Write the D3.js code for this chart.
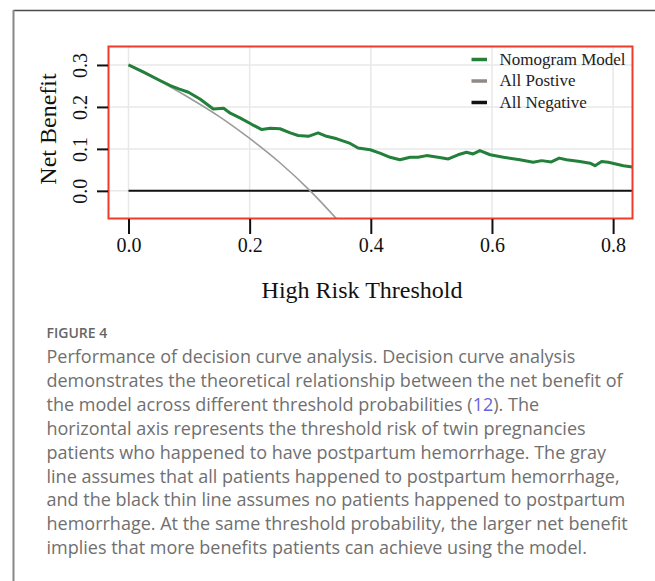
<!DOCTYPE html>
<html>
<head>
<meta charset="utf-8">
<script src="https://cdn.jsdelivr.net/npm/d3@7"></script>
<style>
  html, body { margin: 0; padding: 0; background: #fff; }
</style>
</head>
<body>
<div id="chart"></div>
<script>
const width = 655
const height = 581

// Nomogram model curve
const modelThreshold = [0, 0.025, 0.052, 0.069, 0.083, 0.099, 0.118, 0.140, 0.157, 0.168, 0.184, 0.204, 0.220, 0.234, 0.250, 0.267, 0.280, 0.297, 0.313, 0.327, 0.344, 0.366, 0.379, 0.399, 0.415, 0.432, 0.448, 0.465, 0.478, 0.492, 0.511, 0.528, 0.544, 0.558, 0.569, 0.580, 0.597, 0.619, 0.646, 0.668, 0.682, 0.698, 0.711, 0.723, 0.745, 0.762, 0.770, 0.781, 0.792, 0.817, 0.832]
const modelBenefit = [0.300, 0.283, 0.263, 0.251, 0.243, 0.235, 0.219, 0.195, 0.197, 0.185, 0.174, 0.158, 0.146, 0.149, 0.148, 0.138, 0.132, 0.130, 0.138, 0.130, 0.124, 0.113, 0.102, 0.098, 0.090, 0.080, 0.074, 0.080, 0.080, 0.084, 0.080, 0.076, 0.086, 0.092, 0.088, 0.096, 0.086, 0.080, 0.074, 0.068, 0.072, 0.069, 0.078, 0.074, 0.070, 0.066, 0.060, 0.070, 0.068, 0.060, 0.057]

// All positive curve
const allPosThreshold = [0, 0.05, 0.10, 0.15, 0.20, 0.25, 0.30, 0.345]
const allPosBenefit = [0.300, 0.263, 0.222, 0.177, 0.125, 0.067, 0.000, -0.069]

// All negative
const allNegThreshold = [0, 0.832]
const allNegBenefit = [0, 0]

const xTicks = [0, 0.2, 0.4, 0.6, 0.8]
const yTicks = [0, 0.1, 0.2, 0.3]
const legendLabels = ["Nomogram Model", "All Postive", "All Negative"]
const legendColors = ["#22803a", "#8f8a86", "#111"]

const captionTitle = "FIGURE 4"
const captionLines = [
  "Performance of decision curve analysis. Decision curve analysis",
  "demonstrates the theoretical relationship between the net benefit of",
  "the model across different threshold probabilities (12). The",
  "horizontal axis represents the threshold risk of twin pregnancies",
  "patients who happened to have postpartum hemorrhage. The gray",
  "line assumes that all patients happened to postpartum hemorrhage,",
  "and the black thin line assumes no patients happened to postpartum",
  "hemorrhage. At the same threshold probability, the larger net benefit",
  "implies that more benefits patients can achieve using the model."
]

const plot = { left: 108.5, right: 632.5, top: 46.5, bottom: 218.5 }
const serif = "'Liberation Serif', 'Times New Roman', serif"

const svg = d3.select("#chart")
              .append("svg")
              .attr("width", width)
              .attr("height", height)

// figure frame (left + top border)
svg.append("line")
   .attr("x1", 13.5).attr("x2", width).attr("y1", 10.5).attr("y2", 10.5)
   .attr("stroke", "#4a4a4a").attr("stroke-width", 1.5)
svg.append("line")
   .attr("x1", 13.5).attr("x2", 13.5).attr("y1", 10).attr("y2", height)
   .attr("stroke", "#888").attr("stroke-width", 2)

const x = d3.scaleLinear().domain([-0.033, 0.832]).range([plot.left, plot.right])
const y = d3.scaleLinear().domain([-0.0659, 0.344]).range([plot.bottom, plot.top])

// grid
svg.append("g")
   .selectAll("line")
   .data(xTicks)
   .enter()
   .append("line")
   .attr("x1", d => x(d)).attr("x2", d => x(d))
   .attr("y1", plot.top).attr("y2", plot.bottom)
   .attr("stroke", "#e8e8e8").attr("stroke-width", 1.5)
svg.append("g")
   .selectAll("line")
   .data(yTicks)
   .enter()
   .append("line")
   .attr("x1", plot.left).attr("x2", plot.right)
   .attr("y1", d => y(d)).attr("y2", d => y(d))
   .attr("stroke", "#e8e8e8").attr("stroke-width", 1.5)

// clip for curves
svg.append("clipPath")
   .attr("id", "clip")
   .append("rect")
   .attr("x", plot.left).attr("y", plot.top)
   .attr("width", plot.right - plot.left).attr("height", plot.bottom - plot.top)

const line = d3.line().x(d => x(d[0])).y(d => y(d[1]))
const curves = svg.append("g").attr("clip-path", "url(#clip)")

curves.append("path")
      .datum(d3.zip(allNegThreshold, allNegBenefit))
      .attr("d", line)
      .attr("fill", "none")
      .attr("stroke", "#111")
      .attr("stroke-width", 2)

curves.append("path")
      .datum(d3.zip(allPosThreshold, allPosBenefit))
      .attr("d", d3.line().curve(d3.curveMonotoneX).x(d => x(d[0])).y(d => y(d[1])))
      .attr("fill", "none")
      .attr("stroke", "#9b9b9b")
      .attr("stroke-width", 1.6)

curves.append("path")
      .datum(d3.zip(modelThreshold, modelBenefit))
      .attr("d", line)
      .attr("fill", "none")
      .attr("stroke", "#22803a")
      .attr("stroke-width", 3)
      .attr("stroke-linejoin", "round")

// red box
svg.append("rect")
   .attr("x", plot.left).attr("y", plot.top)
   .attr("width", plot.right - plot.left).attr("height", plot.bottom - plot.top)
   .attr("fill", "none")
   .attr("stroke", "#ef3b2c")
   .attr("stroke-width", 2)

// axes
const xAxis = svg.append("g")
                 .attr("transform", "translate(0," + (plot.bottom + 0.5) + ")")
                 .call(d3.axisBottom(x).tickValues(xTicks).tickFormat(d3.format(".1f")).tickSize(15).tickPadding(4))
xAxis.select(".domain").remove()
xAxis.selectAll(".tick line").attr("stroke", "#111").attr("stroke-width", 2)
xAxis.selectAll(".tick text")
     .attr("fill", "#111")
     .style("font-family", serif)
     .style("font-size", "20px")

const yAxis = svg.append("g")
                 .attr("transform", "translate(" + (plot.left - 0.5) + ",0)")
                 .call(d3.axisLeft(y).tickValues(yTicks).tickFormat(d3.format(".1f")).tickSize(11).tickPadding(0))
yAxis.select(".domain").remove()
yAxis.selectAll(".tick line").attr("stroke", "#111").attr("stroke-width", 2)
yAxis.selectAll(".tick text")
     .attr("fill", "#111")
     .attr("x", null)
     .attr("dy", null)
     .attr("text-anchor", "middle")
     .attr("transform", "translate(-28,0) rotate(-90)")
     .attr("dominant-baseline", "central")
     .style("font-family", serif)
     .style("font-size", "20px")

// axis titles
svg.append("text")
   .attr("x", 362).attr("y", 298)
   .attr("text-anchor", "middle")
   .style("font-family", serif)
   .style("font-size", "24px")
   .attr("fill", "#111")
   .text("High Risk Threshold")

svg.append("text")
   .attr("transform", "translate(56," + 129 + ") rotate(-90)")
   .attr("text-anchor", "middle")
   .style("font-family", serif)
   .style("font-size", "24px")
   .attr("fill", "#111")
   .text("Net Benefit")

// legend
const legend = svg.append("g").attr("id", "legend")
const legendItem = legend.selectAll("g")
                         .data(legendLabels)
                         .enter()
                         .append("g")
                         .attr("transform", (d, i) => "translate(0," + (59.5 + 21.5 * i) + ")")
legendItem.append("line")
          .attr("x1", 471.5).attr("x2", 487)
          .attr("stroke", (d, i) => legendColors[i])
          .attr("stroke-width", 3.5)
legendItem.append("text")
          .attr("x", 499.5)
          .attr("dy", "0.32em")
          .style("font-family", serif)
          .style("font-size", "17px")
          .attr("fill", "#222")
          .text(d => d)

// caption
const caption = svg.append("g").attr("id", "caption")
caption.append("text")
       .attr("x", 46.5).attr("y", 338)
       .style("font-family", "'Open Sans', sans-serif")
       .style("font-size", "14px")
       .style("font-weight", 600)
       .attr("fill", "#666")
       .text(captionTitle)

const capText = caption.append("text")
                       .style("font-family", "'Open Sans', sans-serif")
                       .style("font-size", "18px")
                       .attr("fill", "#707070")
captionLines.forEach((ln, i) => {
  const tspan = capText.append("tspan")
                       .attr("x", 46.5)
                       .attr("y", 363 + 23.9 * i)
  const parts = ln.split("(12)")
  if (parts.length > 1) {
    tspan.append("tspan").text(parts[0] + "(")
    tspan.append("tspan").attr("fill", "#6a5fe0").text("12")
    tspan.append("tspan").text(")" + parts[1])
  } else {
    tspan.text(ln)
  }
})
</script>
</body>
</html>
